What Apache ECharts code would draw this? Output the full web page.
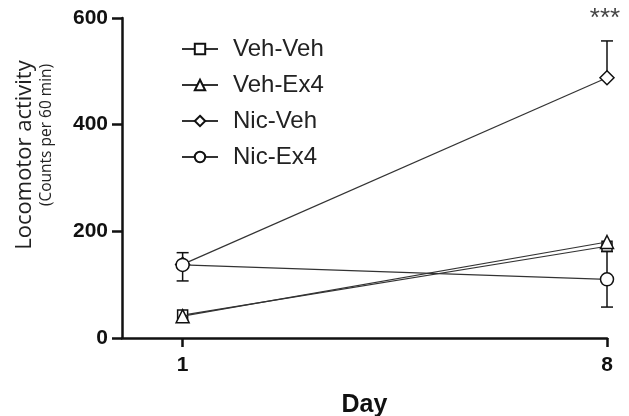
<!DOCTYPE html>
<html><head><meta charset="utf-8">
<script src="https://cdn.jsdelivr.net/npm/echarts@6/dist/echarts.min.js"></script>
<style>html,body{margin:0;padding:0;background:#fff}#c{width:629px;height:416px}</style>
</head><body><div id="c"></div>
<script>
// Data
const days = [1, 8];
const seriesNames = ['Veh-Veh', 'Veh-Ex4', 'Nic-Veh', 'Nic-Ex4'];
const vehVeh = [43, 172];
const vehEx4 = [41, 180];
const nicVeh = [138, 488];
const nicEx4 = [137, 110];
// error bars: [day, low, high]
const errNicVeh = [[8, 488, 557]];
const errNicEx4 = [[1, 107, 160], [8, 58, 162]];
const yTicks = [0, 200, 400, 600];
const xTicks = [1, 8];
const sigLabel = '***';

const symbols = ['rect', 'triangle', 'diamond', 'circle'];
const values = [vehVeh, vehEx4, nicVeh, nicEx4];
const sizes = [10, 13, 14, 13];

const chart = echarts.init(document.getElementById('c'));
const lineSeries = seriesNames.map((n, i) => ({
  name: n, type: 'line', z: 3 + i,
  data: days.map((d, j) => [d, values[i][j]]),
  symbol: symbols[i], symbolSize: sizes[i],
  lineStyle: {color: '#333', width: 1.2},
  itemStyle: {color: '#fff', borderColor: '#111', borderWidth: 1.5},
  emphasis: {disabled: true}
}));
function errSeries(data, lowCap) {
  return {
    type: 'custom', z: 2, silent: true,
    data: data,
    renderItem: function (params, api) {
      const lo = api.coord([api.value(0), api.value(1)]);
      const hi = api.coord([api.value(0), api.value(2)]);
      const w = 6;
      const st = {stroke: '#111', lineWidth: 1.5};
      const ch = [
        {type: 'line', shape: {x1: lo[0], y1: lo[1], x2: hi[0], y2: hi[1]}, style: st},
        {type: 'line', shape: {x1: hi[0] - w, y1: hi[1], x2: hi[0] + w, y2: hi[1]}, style: st}
      ];
      if (lowCap) ch.push({type: 'line', shape: {x1: lo[0] - w, y1: lo[1], x2: lo[0] + w, y2: lo[1]}, style: st});
      return {type: 'group', children: ch};
    }
  };
}

chart.setOption({
  animation: false,
  grid: {left: 122, right: 22, top: 18, bottom: 78, containLabel: false, outerBoundsMode: 'none'},
  legend: {
    orient: 'vertical', left: 176, top: 32, itemGap: 12,
    itemWidth: 36, itemHeight: 13,
    textStyle: {fontFamily: 'Liberation Sans, Arial', fontSize: 24, color: '#222', padding: [0, 0, 0, 10]},
    data: seriesNames
  },
  xAxis: {
    type: 'value', min: 0, max: 8, interval: 1,
    name: 'Day', nameLocation: 'middle', nameGap: 55,
    nameTextStyle: {fontFamily: 'Liberation Sans, Arial', fontWeight: 'bold', fontSize: 25, color: '#111'},
    axisLine: {show: true, lineStyle: {color: '#111', width: 2.5}},
    axisTick: {show: true, customValues: xTicks, length: 9, lineStyle: {color: '#111', width: 2.5}},
    axisLabel: {customValues: xTicks, margin: 17, fontFamily: 'Liberation Sans, Arial', fontWeight: 'bold', fontSize: 21, color: '#111'},
    splitLine: {show: false}
  },
  yAxis: {
    type: 'value', min: 0, max: 600, interval: 200,
    axisLine: {show: true, lineStyle: {color: '#111', width: 2.5}},
    axisTick: {show: true, length: 10, lineStyle: {color: '#111', width: 2.5}},
    axisLabel: {margin: 14, fontFamily: 'Liberation Sans, Arial', fontWeight: 'bold', fontSize: 21, color: '#111'},
    splitLine: {show: false}
  },
  series: [errSeries(errNicVeh, false), errSeries(errNicEx4, true)].concat(lineSeries)
});
const star = chart.convertToPixel({gridIndex: 0}, [8, 600]);
chart.setOption({
  graphic: [
    {type: 'text', x: 25, y: 155, rotation: Math.PI / 2,
     style: {text: 'Locomotor activity', fontFamily: 'Open Sans', fontSize: 22, fill: '#222', align: 'center', verticalAlign: 'middle'}},
    {type: 'text', x: 47, y: 135, rotation: Math.PI / 2,
     style: {text: '(Counts per 60 min)', fontFamily: 'Open Sans', fontSize: 15.5, fill: '#222', align: 'center', verticalAlign: 'middle'}},
    {type: 'text', x: star[0] - 2, y: 19,
     style: {text: sigLabel, fontFamily: 'Liberation Sans, Arial', fontSize: 26, fill: '#444', align: 'center', verticalAlign: 'middle'}}
  ]
});
</script></body></html>
